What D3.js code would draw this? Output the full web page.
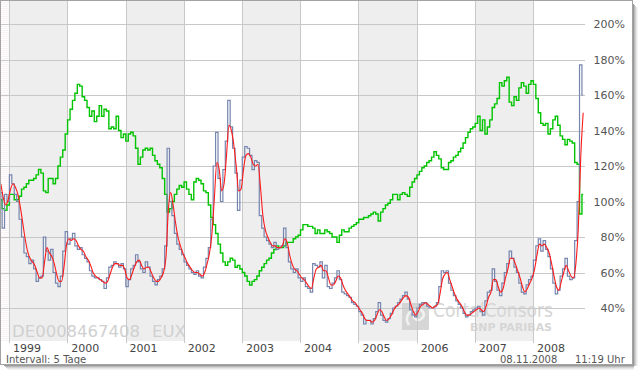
<!DOCTYPE html>
<html>
<head>
<meta charset="utf-8">
<script src="https://cdn.jsdelivr.net/npm/d3@7"></script>
<style>
  html, body { margin: 0; padding: 0; background: #fff; }
  svg { display: block; font-family: "DejaVu Sans", Verdana, sans-serif; }
</style>
</head>
<body>
<div id="chart"></div>
<script>
// weekly data shown at half-month steps, starting 08.11.1998
var startDate = Date.UTC(1998, 10, 8);
var stepDays = 365.25 / 24;

// green: index line (in % of start)
var dax = [
  101, 96, 95, 98, 104, 104, 101, 101, 103, 107,
  108, 110, 112, 112, 113, 115, 118, 116, 106, 105,
  113, 113, 110, 113, 120, 125, 129, 138, 146, 152,
  157, 161, 166, 165, 159, 157, 153, 148, 151, 145,
  148, 154, 148, 152, 151, 141, 142, 141, 148, 140,
  136, 138, 134, 138, 139, 137, 130, 121, 125, 129,
  130, 129, 130, 126, 123, 121, 119, 113, 104, 94,
  96, 100, 104, 107, 109, 108, 111, 107, 104, 101,
  111, 113, 112, 110, 106, 105, 98, 91, 87, 82,
  76, 71, 66, 64, 66, 68, 67, 63, 64, 62,
  60, 58, 55, 53, 55, 56, 58, 61, 63, 65,
  67, 68, 71, 73, 75, 74, 74, 75, 77, 77,
  77, 79, 80, 81, 84, 87, 87, 86, 86, 85,
  82, 84, 82, 82, 84, 83, 82, 80, 80, 77,
  81, 84, 83, 83, 85, 86, 87, 88, 90, 90,
  91, 91, 92, 93, 94, 93, 89, 94, 96, 98,
  99, 101, 104, 104, 101, 104, 105, 104, 103, 108,
  111, 113, 115, 117, 119, 120, 122, 123, 125, 128,
  126, 124, 119, 118, 118, 122, 123, 125, 126, 128,
  130, 133, 136, 139, 141, 142, 144, 148, 140, 146,
  138, 142, 146, 153, 155, 158, 167, 165, 168, 170,
  156, 154, 159, 157, 164, 167, 165, 161, 166, 168,
  166, 158, 150, 144, 143, 144, 138, 141, 146, 148,
  143, 137, 135, 132, 135, 134, 133, 122, 121, 93,
  104
];

// blue-grey: volatility index (in %)
var vdax = [
  105, 85, 104, 100, 115, 110, 104, 100, 90, 80,
  71, 69, 65, 67, 62, 55, 57, 58, 80, 72,
  67, 73, 60, 54, 52, 58, 72, 83, 76, 79,
  82, 75, 73, 74, 70, 68, 66, 61, 58, 57,
  57, 56, 55, 51, 57, 63, 64, 66, 65, 63,
  65, 62, 52, 56, 62, 64, 70, 66, 62, 60,
  66, 63, 58, 55, 53, 56, 58, 62, 75, 130,
  100, 92, 82, 76, 73, 70, 66, 64, 62, 60,
  59, 61, 58, 57, 63, 68, 74, 90, 120, 139,
  113, 100, 118, 134, 157, 142, 130, 116, 95, 112,
  125, 131, 130, 126, 118, 123, 122, 92, 85, 80,
  78, 76, 74, 77, 73, 74, 75, 85, 74, 66,
  62, 60, 62, 57, 55, 57, 52, 51, 49, 65,
  64, 63, 66, 57, 64, 52, 51, 54, 57, 61,
  56, 49, 48, 47, 46, 43, 42, 41, 38, 36,
  31, 33, 33, 31, 34, 38, 43, 36, 33, 32,
  34, 37, 40, 41, 43, 45, 47, 49, 45, 39,
  36, 35, 40, 42, 43, 43, 41, 40, 40, 41,
  43, 52, 61, 60, 61, 54, 50, 47, 44, 42,
  40, 37, 35, 36, 38, 39, 40, 41, 38, 36,
  44, 49, 50, 62, 55, 50, 47, 54, 60, 65,
  72, 68, 63, 60, 54, 49, 48, 53, 56, 58,
  67, 75, 79, 72, 78, 73, 69, 62, 54, 48,
  50, 58, 62, 68, 58, 56, 57, 78, 100, 177,
  160
];

// red: smoothed average of the volatility line
var vdaxAvg = [
  110, 102, 98, 101, 107, 110, 108, 104, 97, 88,
  79, 72, 68, 66, 64, 60, 57, 57, 66, 74,
  71, 69, 65, 59, 55, 55, 63, 75, 79, 78,
  79, 78, 75, 73, 72, 69, 67, 64, 60, 58,
  57, 56, 55, 54, 55, 59, 63, 65, 65, 64,
  64, 62, 57, 56, 59, 63, 66, 67, 64, 62,
  63, 63, 60, 57, 55, 55, 57, 60, 68, 95,
  105, 98, 88, 80, 75, 71, 68, 65, 63, 61,
  60, 60, 59, 58, 60, 65, 71, 82, 102, 122,
  118, 106, 110, 126, 143, 140, 132, 120, 106, 107,
  118, 126, 127, 125, 121, 120, 121, 108, 92, 84,
  80, 77, 75, 75, 74, 74, 75, 79, 77, 70,
  65, 62, 61, 59, 57, 56, 54, 52, 51, 57,
  62, 63, 64, 61, 61, 57, 53, 53, 55, 58,
  57, 53, 50, 48, 46, 44, 43, 41, 39, 37,
  34, 33, 33, 32, 33, 36, 39, 38, 35, 33,
  34, 36, 39, 41, 42, 44, 46, 47, 46, 42,
  38, 36, 38, 41, 42, 43, 42, 41, 40, 41,
  42, 48, 56, 59, 60, 56, 52, 48, 45, 43,
  41, 38, 36, 36, 37, 38, 39, 40, 39, 38,
  41, 46, 49, 56, 56, 52, 49, 51, 57, 62,
  68, 68, 65, 61, 57, 52, 49, 51, 54, 57,
  62, 70, 76, 75, 76, 74, 71, 65, 58, 52,
  50, 55, 60, 64, 61, 58, 57, 65, 85, 125,
  150
];

var years = [1999, 2000, 2001, 2002, 2003, 2004, 2005, 2006, 2007, 2008];
var yTicks = [40, 60, 80, 100, 120, 140, 160, 180, 200];
var isin = 'DE0008467408';
var exchange = 'EUX';
var intervalLabel = 'Intervall: 5 Tage';
var dateLabel = '08.11.2008';
var timeLabel = '11:19 Uhr';

var W = 640, H = 370;
var plot = { left: 1, right: 585, top: 1, bottom: 341 };

var dates = dax.map(function (d, i) { return new Date(startDate + i * stepDays * 864e5); });

var svg = d3.select('#chart').append('svg').attr('width', W).attr('height', H);

var x = d3.scaleUtc()
  .domain([Date.UTC(1999, 0, 1), Date.UTC(2008, 0, 1)])
  .range([9.5, 533.5]);
var y = d3.scaleLinear().domain([40, 200]).range([308, 24]);

var defs = svg.append('defs');
var pat = defs.append('pattern').attr('id', 'hatch')
  .attr('patternUnits', 'userSpaceOnUse').attr('width', 4).attr('height', 2);
pat.append('rect').attr('width', 4).attr('height', 2).attr('fill', '#fff');
pat.append('rect').attr('width', 4).attr('height', 1).attr('fill', '#f8f1f3');
defs.append('clipPath').attr('id', 'clip').append('rect')
  .attr('x', plot.left).attr('y', plot.top)
  .attr('width', plot.right - plot.left).attr('height', plot.bottom - plot.top);

// drop shadow right / bottom
var shade = ['#9a9a9a', '#b8b8b8', '#d2d2d2', '#e6e6e6', '#f3f3f3'];
shade.forEach(function (c, k) {
  svg.append('rect').attr('x', 633 + k).attr('y', 4 + k).attr('width', 1).attr('height', 362 - k).attr('fill', c);
  svg.append('rect').attr('x', 4 + k).attr('y', 365 + k).attr('width', 630 - k).attr('height', 1).attr('fill', c);
});
svg.append('rect').attr('x', 0).attr('y', 0).attr('width', 633).attr('height', 365).attr('fill', '#fff');

// year bands
var g = svg.append('g');
g.append('rect')
  .attr('x', plot.left).attr('y', plot.top)
  .attr('width', x(new Date(Date.UTC(years[0], 0, 1))) - plot.left)
  .attr('height', plot.bottom - plot.top)
  .attr('fill', 'url(#hatch)');
years.forEach(function (yr, k) {
  var x0 = x(new Date(Date.UTC(yr, 0, 1)));
  var x1 = Math.min(x(new Date(Date.UTC(yr + 1, 0, 1))), plot.right);
  if (k % 2 === 0) {
    g.append('rect').attr('x', x0).attr('y', plot.top)
      .attr('width', x1 - x0).attr('height', plot.bottom - plot.top)
      .attr('fill', '#eeeeee');
  }
});

// watermark
var wm = svg.append('g').attr('fill', '#d0d0d0');
wm.append('text').attr('x', 12).attr('y', 337).style('font-size', '16.5px').text(isin);
wm.append('text').attr('x', 152).attr('y', 337).style('font-size', '16.5px').text(exchange);
var logo = svg.append('g');
logo.append('rect').attr('x', 402).attr('y', 303).attr('width', 27).attr('height', 27)
  .attr('fill', '#cfcfcf').attr('opacity', 0.85);
logo.append('path')
  .attr('d', 'M409,325 C404,318 409,309 417,309 C424,309 426,316 421,319 C417,322 412,318 415,314')
  .attr('fill', 'none').attr('stroke', '#f2f2f2').attr('stroke-width', 2.5);
logo.append('text').attr('x', 433).attr('y', 317)
  .attr('textLength', 120).attr('lengthAdjust', 'spacingAndGlyphs')
  .style('font-size', '19px').attr('fill', '#d6d6d6').text('CortalConsors');
logo.append('text').attr('x', 470).attr('y', 331)
  .attr('textLength', 82).attr('lengthAdjust', 'spacingAndGlyphs')
  .style('font-size', '10.5px').style('font-weight', 'bold').attr('fill', '#d6d6d6').text('BNP PARIBAS');

// grid
var grid = svg.append('g').attr('stroke', '#c8c8c8').attr('stroke-width', 1).attr('shape-rendering', 'crispEdges');
yTicks.forEach(function (t) {
  var yy = Math.round(y(t)) + 0.5;
  grid.append('line').attr('x1', plot.left).attr('x2', plot.right).attr('y1', yy).attr('y2', yy);
});
years.forEach(function (yr) {
  var xx = Math.floor(x(new Date(Date.UTC(yr, 0, 1)))) + 0.5;
  grid.append('line').attr('x1', xx).attr('x2', xx).attr('y1', plot.top).attr('y2', 343);
});

// series
var lines = svg.append('g').attr('clip-path', 'url(#clip)');
function stepLine(vals) {
  return d3.line()
    .x(function (d, i) { return x(dates[i]); })
    .y(function (d) { return y(d); })
    .curve(d3.curveStep)(vals);
}
lines.append('path').attr('d', stepLine(dax))
  .attr('fill', 'none').attr('stroke', '#00c400').attr('stroke-width', 1.4);
lines.append('path').attr('d', stepLine(vdax))
  .attr('fill', 'none').attr('stroke', '#7585ad').attr('stroke-width', 1.2);
lines.append('path')
  .attr('d', d3.line()
    .x(function (d, i) { return x(dates[i]); })
    .y(function (d) { return y(d); })
    .curve(d3.curveMonotoneX)(vdaxAvg))
  .attr('fill', 'none').attr('stroke', '#ff1a1a').attr('stroke-width', 1.1);

// right axis
svg.append('g')
  .attr('transform', 'translate(' + plot.right + ',0)')
  .call(d3.axisRight(y).tickValues(yTicks).tickSize(0).tickPadding(40)
    .tickFormat(function (d) { return d + '%'; }))
  .call(function (a) {
    a.select('.domain').remove();
    a.selectAll('text').attr('text-anchor', 'end').attr('fill', '#555')
      .style('font-size', '11px').style('font-family', '"DejaVu Sans", Verdana, sans-serif');
  });

// year axis
svg.append('g')
  .attr('transform', 'translate(0,343)')
  .call(d3.axisBottom(x)
    .tickValues(years.map(function (yr) { return new Date(Date.UTC(yr, 0, 1)); }))
    .tickSize(0)
    .tickFormat(function (d, i) { return String(years[i]); }))
  .call(function (a) {
    a.select('.domain').remove();
    a.selectAll('text').attr('text-anchor', 'start').attr('x', 3).attr('y', 8.5).attr('dy', 0)
      .attr('fill', '#444').style('font-size', '11px')
      .style('font-family', '"DejaVu Sans", Verdana, sans-serif');
  });

// footer
var foot = svg.append('g').attr('fill', '#555').style('font-size', '10px');
foot.append('text').attr('x', 6).attr('y', 362.5).text(intervalLabel);
foot.append('text').attr('x', 500).attr('y', 362.5).text(dateLabel);
foot.append('text').attr('x', 575).attr('y', 362.5).text(timeLabel);

// frame
svg.append('rect').attr('x', 0.5).attr('y', 0.5).attr('width', 632).attr('height', 364)
  .attr('fill', 'none').attr('stroke', '#a3a3a3');
</script>
</body>
</html>
